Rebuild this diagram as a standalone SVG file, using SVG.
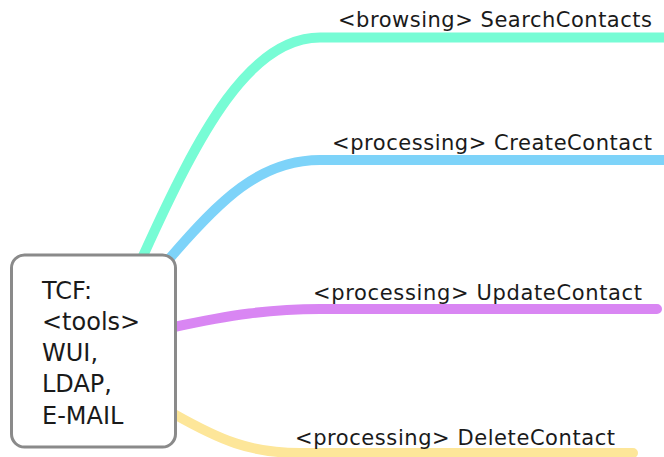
<svg xmlns="http://www.w3.org/2000/svg" width="664" height="457" viewBox="0 0 664 457">
<style>
.c{fill:none;stroke-width:10;stroke-linecap:round}
.lbl{font-family:"DejaVu Sans",Verdana,sans-serif;font-size:21px;fill:#1a1a1a}
.nt{font-family:"DejaVu Sans",Verdana,sans-serif;font-size:24px;fill:#1a1a1a}
</style>
<rect width="664" height="457" fill="#ffffff"/>
<g id="connectors">
<path class="c" stroke="#77fcd5" d="M143,256 C200,130 250,37.5 320,37.5 L672,37.5"/>
<path class="c" stroke="#7dd3f9" d="M170,258 C220,200 260,160 320,160 L672,160"/>
<path class="c" stroke="#d986f3" d="M174,327 C230,315 270,309 320,309 L657,309"/>
<path class="c" stroke="#fde699" d="M174,414 C220,440 250,453 300,453 L633,453"/>
</g>
<g id="n-search"><text class="lbl" x="338" y="27" textLength="314" lengthAdjust="spacing">&lt;browsing&gt; SearchContacts</text></g>
<g id="n-create"><text class="lbl" x="332" y="150" textLength="320" lengthAdjust="spacing">&lt;processing&gt; CreateContact</text></g>
<g id="n-update"><text class="lbl" x="313" y="300" textLength="329" lengthAdjust="spacing">&lt;processing&gt; UpdateContact</text></g>
<g id="n-delete"><text class="lbl" x="295" y="445" textLength="320" lengthAdjust="spacing">&lt;processing&gt; DeleteContact</text></g>
<g id="n-tcf">
<rect x="11.5" y="255" width="164" height="192" rx="13" fill="#ffffff" stroke="#8a8a8a" stroke-width="3"/>
<text class="nt" x="42" y="299">TCF:</text>
<text class="nt" x="42" y="330">&lt;tools&gt;</text>
<text class="nt" x="42" y="361">WUI,</text>
<text class="nt" x="42" y="392">LDAP,</text>
<text class="nt" x="42" y="424">E-MAIL</text>
</g>
</svg>
